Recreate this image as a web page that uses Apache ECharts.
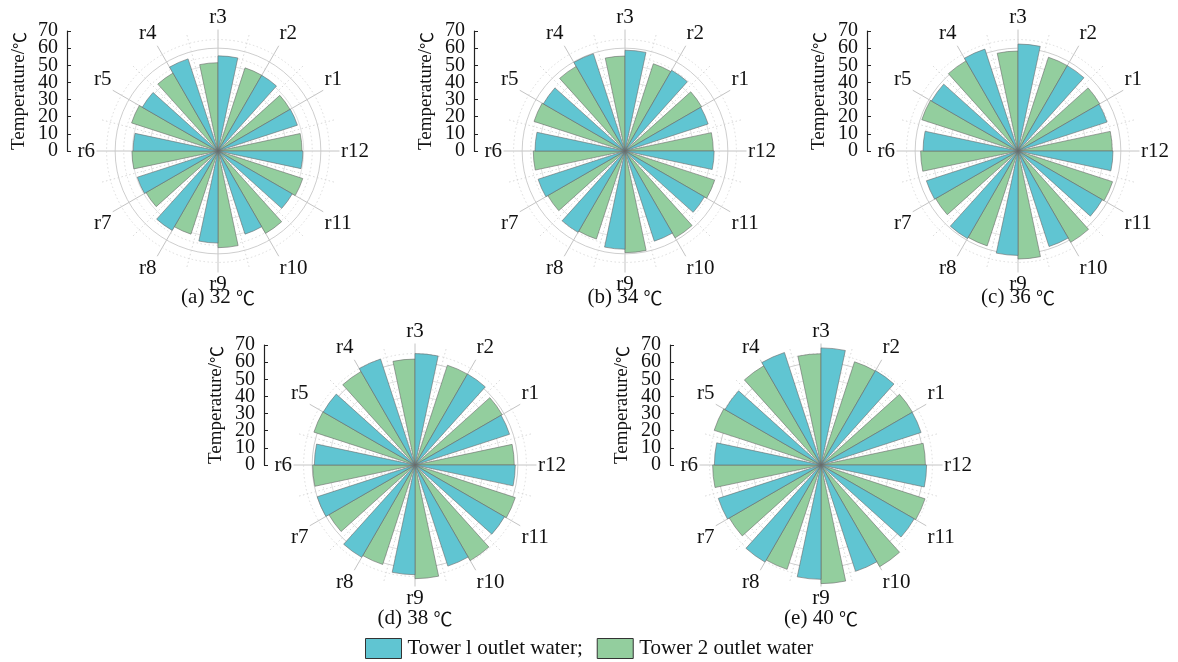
<!DOCTYPE html>
<html>
<head>
<meta charset="utf-8">
<script src="https://cdn.jsdelivr.net/npm/echarts@6/dist/echarts.min.js"></script>
<style>
html,body{margin:0;padding:0;background:#fff;}
#chart{width:1178px;height:662px;}
</style>
</head>
<body>
<div id="chart"></div>
<script>
// ---- data ----
const categories = ['r1','r2','r3','r4','r5','r6','r7','r8','r9','r10','r11','r12'];
const panelLetters = ['(a)','(b)','(c)','(d)','(e)'];
const panelTemps = ['32','34','36','38','40'];
const seriesNames = ['Tower l outlet water;','Tower 2 outlet water'];
const axisTitle = 'Temperature/';
const unit = '℃';
const tempMin = 0, tempMax = 70, tempStep = 10;

const tower1_32 = [48.7, 51.0, 55.5, 56.5, 51.0, 49.5, 49.5, 53.5, 53.7, 51.0, 50.0, 49.5];
const tower2_32 = [48.5, 51.0, 51.5, 52.5, 53.0, 50.2, 48.5, 51.0, 56.4, 55.5, 52.0, 49.0];
const tower1_34 = [51.0, 54.4, 58.8, 59.7, 55.0, 52.5, 53.3, 54.8, 57.3, 55.3, 53.5, 52.0];
const tower2_34 = [51.6, 53.5, 55.4, 57.0, 55.8, 53.5, 52.0, 54.0, 59.3, 58.5, 55.0, 51.5];
const tower1_36 = [54.6, 57.5, 62.4, 62.5, 58.3, 55.4, 56.2, 59.0, 60.9, 58.6, 56.8, 55.4];
const tower2_36 = [55.0, 57.5, 58.3, 60.7, 59.0, 56.8, 55.5, 58.2, 63.0, 61.5, 58.0, 55.0];
const tower1_38 = [58.0, 61.3, 65.0, 65.0, 61.8, 58.7, 60.0, 62.2, 64.0, 62.0, 60.3, 58.5];
const tower2_38 = [58.7, 61.2, 61.8, 63.0, 62.0, 59.7, 58.0, 61.0, 66.3, 64.4, 61.5, 57.9];
const tower1_40 = [61.4, 63.6, 68.3, 69.0, 64.7, 62.2, 63.0, 65.4, 66.7, 65.2, 62.8, 61.6];
const tower2_40 = [61.6, 63.3, 64.9, 66.8, 65.5, 63.2, 61.8, 64.0, 69.2, 68.5, 63.8, 60.9];

const tower1 = [tower1_32, tower1_34, tower1_36, tower1_38, tower1_40];
const tower2 = [tower2_32, tower2_34, tower2_36, tower2_38, tower2_40];

// ---- layout ----
const centers = [[218,151],[625,151],[1018,151],[415,465],[821,465]];
const titleTops = [287, 287, 287, 608, 608];
const R = 120;
const pxPerUnit = R / (tempMax - tempMin);
const FONT = 'Liberation Serif';
const CJK = 'Noto Sans CJK SC';
const TXT = '#111';
const BLUE = '#60C5D2';
const GREEN = '#93CE9E';

const polar = [], angleAxis = [], radiusAxis = [], grid = [], xAxis = [], yAxis = [], series = [], title = [];
const labelStyle = {margin: 9, color: TXT, fontFamily: FONT, fontSize: 20};

centers.forEach((c, i) => {
  // polar with bars
  polar.push({center: [c[0], c[1]], radius: R});
  angleAxis.push({
    polarIndex: 2*i, type: 'category', data: categories, startAngle: 15, clockwise: false,
    axisLine: {show: false}, axisTick: {show: false},
    axisLabel: {margin: 3, color: TXT, fontFamily: FONT, fontSize: 21},
    splitLine: {show: true, lineStyle: {color: '#cfcfcf', width: 0.8, type: [1.5, 2.5]}},
    z: 1
  });
  radiusAxis.push({
    polarIndex: 2*i, type: 'value', min: tempMin, max: tempMax, interval: tempStep,
    axisLine: {show: false}, axisTick: {show: false}, axisLabel: {show: false},
    splitLine: {show: true, lineStyle: {color: ['rgba(0,0,0,0)','#dedede','#dedede','#dedede','#dedede','#dedede','#c8c8c8','rgba(0,0,0,0)'], width: 0.9}},
    minorTick: {show: false, splitNumber: 2},
    minorSplitLine: {show: true, lineStyle: {color: '#d4d4d4', width: 0.8, type: [1.5, 2.5]}},
    z: 1
  });
  // helper polar: solid spokes at category centres
  polar.push({center: [c[0], c[1]], radius: R + 1.5});
  angleAxis.push({
    polarIndex: 2*i+1, type: 'category', data: categories, startAngle: 0, clockwise: false,
    axisLine: {show: false}, axisTick: {show: false}, axisLabel: {show: false},
    splitLine: {show: true, lineStyle: {color: '#c4c4c4', width: 1}},
    z: 0
  });
  radiusAxis.push({
    polarIndex: 2*i+1, type: 'value', min: tempMin, max: tempMax,
    axisLine: {show: false}, axisTick: {show: false}, axisLabel: {show: false}, splitLine: {show: false}
  });

  const left = c[0] - 151;
  const g0 = grid.length;
  // main vertical temperature scale: line, ticks, name
  grid.push({left: left, top: c[1] - R, height: R, width: 20});
  xAxis.push({gridIndex: g0, type: 'value', show: false});
  yAxis.push({
    gridIndex: g0, type: 'value', min: tempMin, max: tempMax, interval: tempStep,
    name: axisTitle + '{u|' + unit + '}', nameLocation: 'middle', nameGap: 38, nameRotate: 90,
    nameTextStyle: {color: TXT, fontFamily: FONT, fontSize: 19, rich: {u: {fontFamily: CJK, fontSize: 17, color: TXT}}},
    axisLine: {show: true, lineStyle: {color: '#222', width: 1.2}},
    axisTick: {show: true, inside: true, length: 4, lineStyle: {color: '#222'}},
    axisLabel: {show: false},
    splitLine: {show: false}
  });
  // labels 0,20,40,60 (same scale)
  const hA = (60 - tempMin) * pxPerUnit;
  grid.push({left: left, top: c[1] - hA, height: hA, width: 20});
  xAxis.push({gridIndex: g0 + 1, type: 'value', show: false});
  yAxis.push({
    gridIndex: g0 + 1, type: 'value', min: 0, max: 60, interval: 20,
    axisLine: {show: false}, axisTick: {show: false}, splitLine: {show: false},
    axisLabel: labelStyle
  });
  // labels 10,30,50,70 (same scale)
  const hB = (tempMax - 10) * pxPerUnit;
  grid.push({left: left, top: c[1] - R, height: hB, width: 20});
  xAxis.push({gridIndex: g0 + 2, type: 'value', show: false});
  yAxis.push({
    gridIndex: g0 + 2, type: 'value', min: 10, max: 70, interval: 20,
    axisLine: {show: false}, axisTick: {show: false}, splitLine: {show: false},
    axisLabel: labelStyle
  });

  title.push({
    text: panelLetters[i] + ' ' + panelTemps[i] + ' {u|' + unit + '}', left: c[0], top: titleTops[i], textAlign: 'center', padding: 0,
    textStyle: {color: TXT, fontFamily: FONT, fontSize: 21, fontWeight: 'normal', rich: {u: {fontFamily: CJK, fontSize: 19, color: TXT}}}
  });

  const mk = (name, data, color) => ({
    type: 'bar', coordinateSystem: 'polar', polarIndex: 2*i, name: name, data: data,
    barGap: '0%', barCategoryGap: '20%',
    itemStyle: {color: color, borderColor: '#6a6a6a', borderWidth: 0.6},
    z: 3
  });
  // order within each category runs counter-clockwise: tower 1 then tower 2
  series.push(mk(seriesNames[1], tower2[i], GREEN));
  series.push(mk(seriesNames[0], tower1[i], BLUE));
});

const option = {
  animation: false,
  backgroundColor: '#fff',
  title: title,
  polar: polar, angleAxis: angleAxis, radiusAxis: radiusAxis,
  grid: grid, xAxis: xAxis, yAxis: yAxis,
  legend: {
    data: seriesNames, left: 365, top: 638, padding: 0,
    itemWidth: 36, itemHeight: 20, itemGap: 14, icon: 'rect',
    itemStyle: {borderColor: '#333', borderWidth: 1},
    textStyle: {color: TXT, fontFamily: FONT, fontSize: 21, padding: [0, 0, 0, 1]}
  },
  series: series
};

const chart = echarts.init(document.getElementById('chart'), null, {renderer: 'canvas'});
chart.setOption(option);
</script>
</body>
</html>
